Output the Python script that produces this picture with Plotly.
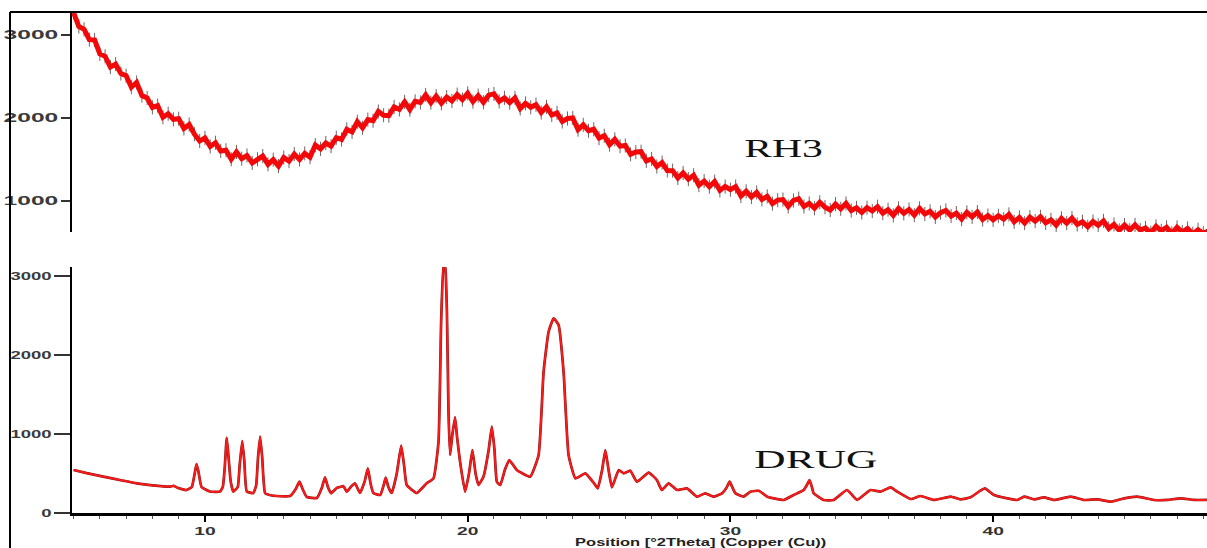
import numpy as np
import plotly.graph_objects as go

# ---------------------------------------------------------------- data
# RH3: amorphous pattern, counts on a 0.2 deg 2-theta scan grid from 5.0
RH3_START = 5.0
RH3_STEP = 0.2
rh3_counts = [
    3270, 3102, 3069, 2944, 2941, 2772, 2743, 2613, 2649, 2536,
    2509, 2371, 2428, 2270, 2241, 2128, 2150, 2008, 2051, 1984,
    1991, 1874, 1922, 1804, 1722, 1760, 1657, 1701, 1602, 1611,
    1503, 1590, 1509, 1548, 1458, 1502, 1541, 1441, 1498, 1420,
    1523, 1480, 1565, 1500, 1573, 1527, 1673, 1628, 1698, 1660,
    1762, 1741, 1864, 1832, 1955, 1882, 1980, 1967, 2078, 2033,
    2028, 2133, 2103, 2194, 2100, 2201, 2187, 2277, 2184, 2263,
    2177, 2252, 2206, 2282, 2222, 2297, 2197, 2269, 2189, 2275,
    2290, 2201, 2243, 2185, 2242, 2114, 2176, 2128, 2160, 2066,
    2134, 2036, 2062, 1958, 1994, 2000, 1859, 1917, 1846, 1864,
    1757, 1786, 1679, 1742, 1660, 1668, 1562, 1590, 1594, 1483,
    1506, 1415, 1463, 1367, 1365, 1276, 1337, 1263, 1310, 1191,
    1240, 1172, 1234, 1127, 1174, 1136, 1173, 1060, 1116, 1047,
    1103, 1019, 1055, 968, 1010, 1017, 934, 1006, 1028, 933,
    970, 912, 984, 925, 891, 962, 906, 970, 884, 917,
    861, 919, 879, 931, 853, 895, 827, 909, 851, 897,
    829, 911, 843, 875, 807, 859, 886, 818, 854, 781,
    863, 808, 867, 776, 824, 773, 822, 781, 838, 749,
    801, 733, 805, 757, 809, 736, 773, 709, 791, 733,
    793, 717, 750, 689, 753, 706, 760, 668, 717, 646,
    709, 648, 712, 648, 675, 617, 694, 640, 682, 609,
    682, 625, 668, 606, 653, 611, 640,
]
rh3_2theta = np.round(RH3_START + RH3_STEP * np.arange(len(rh3_counts)), 2)

# DRUG: crystalline pattern
drug_2theta = [
    5.0, 5.5, 6.13, 6.8, 7.4, 8.0, 8.67, 8.8, 8.95, 9.3, 9.5, 9.62, 9.68, 9.75, 9.87,
    10.19, 10.57, 10.68, 10.75, 10.83, 10.9, 10.98, 11.08, 11.25, 11.32, 11.42, 11.5,
    11.59, 11.84, 11.95, 12.02, 12.10, 12.18, 12.29, 12.5, 12.73, 13.24, 13.45, 13.60,
    13.72, 13.87, 14.26, 14.45, 14.57, 14.68, 14.8, 15.02, 15.15, 15.27, 15.40, 15.55,
    15.71, 15.9, 16.08, 16.20, 16.3, 16.41, 16.67, 16.8, 16.88, 16.98, 17.11, 17.3,
    17.47, 17.58, 17.68, 18.06, 18.44, 18.70, 18.89, 18.99, 19.08, 19.15, 19.21, 19.27,
    19.33, 19.42, 19.52, 19.6, 19.71, 19.9, 20.05, 20.18, 20.3, 20.41, 20.6, 20.8,
    20.92, 21.02, 21.11, 21.24, 21.42, 21.58, 21.87, 22.38, 22.70, 22.89, 23.08, 23.27,
    23.46, 23.65, 23.84, 24.10, 24.48, 24.8, 24.95, 25.12, 25.24, 25.36, 25.49, 25.75,
    25.94, 26.19, 26.44, 26.89, 27.2, 27.39, 27.65, 27.97, 28.35, 28.73, 29.04, 29.36,
    29.68, 29.85, 29.97, 30.08, 30.19, 30.5, 30.76, 31.08, 31.40, 31.65, 32.03, 32.41,
    32.79, 32.92, 33.01, 33.1, 33.17, 33.55, 33.93, 34.44, 34.82, 35.33, 35.71, 36.10,
    36.35, 36.86, 37.24, 37.75, 38.38, 38.76, 39.14, 39.5, 39.69, 39.9, 40.03, 40.54,
    40.92, 41.18, 41.56, 41.94, 42.32, 42.95, 43.46, 43.97, 44.48, 44.99, 45.49, 46.12,
    46.63, 47.14, 47.65, 48.16,
]
drug_counts = [
    545, 505, 460, 415, 376, 350, 333, 345, 320, 291, 330, 520, 620, 530, 330,
    272, 270, 330, 560, 950, 700, 400, 270, 330, 600, 910, 650,
    275, 252, 350, 700, 966, 700, 250, 225, 215, 215, 300, 396,
    300, 205, 190, 320, 452, 330, 250, 318, 330, 340, 270, 330,
    376, 253, 400, 565, 380, 253, 228, 350, 447, 330, 253, 500,
    852, 600, 354, 253, 376, 439, 903, 2422, 3173, 3100, 2548, 1282,
    734, 1000, 1211, 950, 650, 270, 500, 797, 500, 354, 460, 800,
    1093, 800, 396, 354, 550, 671, 544, 460, 734, 1789, 2295, 2464,
    2380, 1789, 734, 439, 502, 380, 312, 550, 797, 550, 325, 544,
    502, 536, 396, 511, 418, 291, 376, 291, 312, 207, 249, 207,
    249, 320, 396, 320, 249, 207, 270, 281, 207, 186, 165, 228,
    291, 360, 418, 330, 249, 165, 165, 291, 165, 291, 270, 325,
    270, 177, 215, 165, 207, 173, 198, 280, 312, 260, 228, 186,
    165, 207, 173, 198, 165, 207, 165, 173, 143, 186, 207, 165,
    165, 186, 165, 165,
]

x_ticks = [10, 20, 30, 40]
top_y_ticks = [1000, 2000, 3000]
bottom_y_ticks = [0, 1000, 2000, 3000]

# ---------------------------------------------------------------- figure
# layout positions are given as pixel offsets on a 1207 x 548 canvas,
# converted to paper fractions so the figure can fill the whole page
W, H = 1207, 548
AX_LEFT = 72 / W


def py(px):
    """paper y for a pixel row counted from the top"""
    return 1 - px / H


tick_font_top = dict(family="Liberation Sans", size=12, color="#3a3a3a", weight="bold")
tick_font_bot = dict(family="Liberation Sans", size=10, color="#3a3a3a", weight="bold")
x_tick_font = dict(family="Liberation Sans", size=11, color="#333333", weight="bold")

fig = go.Figure()

# RH3 (upper panel): noisy red band with grey spikes
fig.add_trace(go.Scatter(
    x=rh3_2theta, y=rh3_counts, xaxis="x2", yaxis="y2", mode="lines",
    line=dict(color="#f20808", width=5),
    error_y=dict(type="constant", value=85, color="rgba(80,60,60,0.8)",
                 thickness=1, width=0),
    cliponaxis=False, showlegend=False, hoverinfo="skip",
))

# DRUG (lower panel): dark under-stroke plus red line
fig.add_trace(go.Scatter(
    x=drug_2theta, y=drug_counts, mode="lines",
    line=dict(color="#8c1414", width=2.7, shape="spline", smoothing=0.4),
    cliponaxis=False, showlegend=False, hoverinfo="skip",
))
fig.add_trace(go.Scatter(
    x=drug_2theta, y=drug_counts, mode="lines",
    line=dict(color="#ff1a1a", width=1.8, shape="spline", smoothing=0.4),
    cliponaxis=False, showlegend=False, hoverinfo="skip",
))

fig.update_layout(
    autosize=True,
    margin=dict(l=0, r=0, t=0, b=0, autoexpand=False),
    paper_bgcolor="white", plot_bgcolor="white",
    xaxis=dict(
        domain=[AX_LEFT, 1], range=[4.94, 48.14], anchor="y",
        showline=True, linecolor="black", linewidth=3,
        ticks="outside", tickvals=x_ticks, ticklen=6, tickwidth=2, tickcolor="black",
        minor=dict(ticks="outside", dtick=1, ticklen=3, tickwidth=1, tickcolor="#555555"),
        showgrid=False, zeroline=False, tickfont=x_tick_font,
    ),
    xaxis2=dict(
        domain=[AX_LEFT, 1], range=[4.94, 48.14], anchor="y2", matches="x",
        visible=False,
    ),
    yaxis=dict(
        domain=[py(513), py(267)], range=[0, 3114], anchor="x",
        showline=True, linecolor="black", linewidth=2,
        ticks="outside", tickvals=bottom_y_ticks, ticklen=16, tickwidth=1.5,
        tickcolor="#333333", showgrid=False, zeroline=False, tickfont=tick_font_bot,
    ),
    yaxis2=dict(
        domain=[py(232), py(12)], range=[626, 3277], anchor="x2",
        showline=True, linecolor="black", linewidth=2,
        ticks="outside", tickvals=top_y_ticks, ticklen=9, tickwidth=1.5,
        tickcolor="#333333", showgrid=False, zeroline=False, tickfont=tick_font_top,
    ),
    annotations=[
        dict(text="Position [°2Theta] (Copper (Cu))", xref="paper", yref="paper",
             x=701 / W, y=py(542), xanchor="center", yanchor="middle",
             showarrow=False,
             font=dict(family="Liberation Sans", size=11, color="#222222", weight="bold")),
        dict(text="RH3", xref="paper", yref="paper",
             x=783 / W, y=py(148), xanchor="center", yanchor="middle",
             showarrow=False,
             font=dict(family="Liberation Serif", size=26, color="#111111")),
        dict(text="DRUG", xref="paper", yref="paper",
             x=816 / W, y=py(459), xanchor="center", yanchor="middle",
             showarrow=False,
             font=dict(family="Liberation Serif", size=26, color="#111111")),
    ],
    shapes=[
        # outer frame: left and top edges
        dict(type="line", xref="paper", yref="paper", x0=10 / W, x1=10 / W,
             y0=0, y1=py(12), line=dict(color="black", width=2)),
        dict(type="line", xref="paper", yref="paper", x0=10 / W, x1=1,
             y0=py(12), y1=py(12), line=dict(color="black", width=2)),
    ],
)

# page styling: no body margin, no scrollbars;
# then widen the lettering horizontally (the figure's type is set in a stretched face)
widen_js = """
(function(){
  document.documentElement.style.margin = '0';
  document.documentElement.style.overflow = 'hidden';
  document.body.style.margin = '0';
  document.body.style.overflow = 'hidden';
  var gd = document.getElementById('{plot_id}');
  function widen(sel, s, anchor){
    gd.querySelectorAll(sel).forEach(function(el){
      var t = el.getAttribute('transform') || '';
      if (t.indexOf('scale(') >= 0) return;
      var b = el.getBBox();
      var cx = anchor === 'end' ? b.x + b.width : b.x + b.width / 2;
      el.setAttribute('transform', (t + ' translate(' + cx + ',0) scale(' + s + ',1) translate(' + (-cx) + ',0)').trim());
    });
  }
  function run(){
    widen('.ytick text', 1.85, 'end');
    widen('.y2tick text', 2.05, 'end');
    widen('.xtick text', 1.75, 'mid');
    widen('.annotation[data-index="0"] .annotation-text', 1.5, 'mid');
    widen('.annotation[data-index="1"] .annotation-text', 1.6, 'mid');
    widen('.annotation[data-index="2"] .annotation-text', 1.67, 'mid');
  }
  run();
  gd.on('plotly_afterplot', run);
})();
"""

fig.write_html("out.html", post_script=widen_js,
               default_width="100vw", default_height="100vh")
